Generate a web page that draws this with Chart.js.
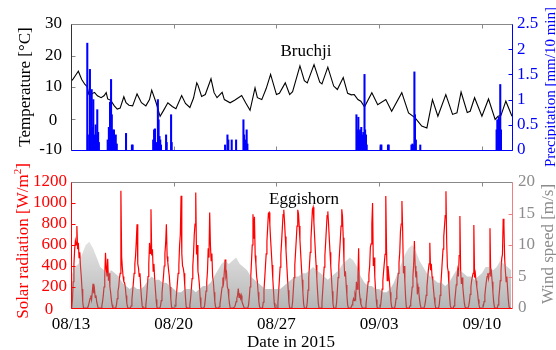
<!DOCTYPE html>
<html>
<head>
<meta charset="utf-8">
<script src="https://cdn.jsdelivr.net/npm/chart.js@4.4.1/dist/chart.umd.min.js"></script>
<style>
body { margin: 0; width: 556px; height: 350px; overflow: hidden; background: #fff; font-family: "Liberation Serif", serif; }
canvas { position: absolute; left: 0; top: 0; }
.lbl { position: absolute; white-space: nowrap; font-size: 17px; line-height: 1; }
.rot { transform: translate(-50%, -50%) rotate(-90deg); }
.ctr { transform: translate(-50%, -50%); }
sup { font-size: 11px; line-height: 0; }
</style>
</head>
<body>
<canvas id="grafTop" width="556" height="350"></canvas>
<canvas id="grafBot" width="556" height="350"></canvas>
<div class="lbl rot" style="left:24px; top:87px; color:#000;">Temperature [°C]</div>
<div class="lbl rot" style="left:550px; top:87px; color:#0000ff; font-size:15px;">Precipitation [mm/10 min]</div>
<div class="lbl ctr" style="left:306px; top:50px; color:#000;">Bruchji</div>
<div class="lbl ctr" style="left:53px; top:119px; color:#000;">0</div>
<div class="lbl rot" style="left:22px; top:241px; color:#ff0000;">Solar radiation [W/m<sup>2</sup>]</div>
<div class="lbl rot" style="left:547px; top:244px; color:#8c8c8c;">Wind speed [m/s]</div>
<div class="lbl ctr" style="left:304px; top:198px; color:#000;">Eggishorn</div>
<div class="lbl ctr" style="left:49px; top:308px; color:#ff0000;">0</div>
<div class="lbl ctr" style="left:291px; top:341px; color:#000;">Date in 2015</div>
<script>
// dias desde 08/13 00:00
var xTickDays = [0, 7, 14, 21, 28];
var xTickLabels = ['08/13', '08/20', '08/27', '09/03', '09/10'];

// Bruchji - temperatura
var tempDays = [0, 0.15, 0.28, 0.5, 0.73, 0.95, 1.1, 1.22, 1.4, 1.6, 1.8, 2.05, 2.25, 2.4, 2.5, 2.7, 2.95, 3.15, 3.35, 3.6, 3.75, 3.95,
    4.2, 4.5, 4.8, 5.1, 5.35, 5.5, 5.8, 6.07, 6.3, 6.6, 6.9, 7.15, 7.54, 7.8, 8.1, 8.35, 8.57, 8.65, 8.9, 9.15, 9.54, 9.75, 9.95,
    10.3, 10.45, 10.84, 11.15, 11.63, 11.9, 12.2, 12.54, 12.7, 13.0, 13.3, 13.6, 14.0, 14.2, 14.6, 14.9, 15.1, 15.6, 15.9, 16.1,
    16.56, 16.95, 17.1, 17.5, 17.9, 18.15, 18.55, 18.85, 19.1, 19.3, 19.55, 19.75, 20.0, 20.5, 20.9, 21.45, 21.85, 22.54, 23.0,
    23.45, 23.9, 24.25, 24.63, 25.0, 25.54, 26.0, 26.3, 26.58, 27.0, 27.2, 27.5, 28.0, 28.45, 28.9, 29.1, 29.3, 29.63, 30.05];
var tempVals = [11.8, 12.6, 13.5, 15.0, 12.4, 10.8, 10.1, 7.6, 7.8, 8.3, 7.2, 6.6, 7.2, 8.2, 6.2, 5.8, 4.0, 3.0, 3.3, 6.9, 5.0, 4.2,
    4.0, 7.8, 5.0, 4.0, 6.0, 9.0, 5.0, 0.7, 2.5, 5.0, 3.8, 3.1, 7.3, 4.8, 3.5, 6.5, 11.3, 10.6, 7.0, 7.6, 12.6, 8.2, 6.6,
    8.3, 6.0, 5.0, 5.8, 7.3, 5.0, 2.6, 9.7, 6.6, 6.0, 9.5, 14.0, 7.6, 8.0, 11.3, 7.6, 8.5, 16.7, 12.0, 11.3,
    17.1, 11.5, 11.0, 16.3, 10.3, 9.2, 13.0, 8.0, 7.5, 7.6, 6.0, 5.5, 3.7, 8.2, 4.4, 6.0, 2.3, 8.2, 1.8,
    0.2, -2.4, -3.0, 6.0, 0.7, 7.6, 1.3, 1.8, 8.4, 1.9, 2.3, 6.6, 0.7, 6.2, -0.3, 0.7, 1.0, 5.5, 0.7];

// Bruchji - precipitacao
var precipDays = [1.11, 1.15, 1.29, 1.35, 1.41, 1.47, 1.52, 1.58, 1.68, 1.74, 1.79, 1.85, 1.9,
    2.5, 2.58, 2.66, 2.73, 2.78, 2.83, 2.88, 2.93, 2.98, 3.05, 3.12, 3.75, 4.15, 4.2,
    5.6, 5.66, 5.72, 5.8, 5.92, 5.97, 6.03, 6.08, 6.13, 6.48, 6.52, 6.82, 6.86,
    10.5, 10.66, 10.72, 10.95, 11.25, 11.75, 11.8, 11.9, 11.97, 12.02,
    19.45, 19.52, 19.58, 19.63, 19.7, 19.78, 19.85, 19.92, 20.0, 20.04, 20.1, 20.15,
    21.1, 21.15, 21.6, 21.65,
    23.2, 23.27, 23.33, 23.4, 23.44, 23.5, 23.8,
    29.0, 29.05, 29.1, 29.15, 29.2, 29.25, 29.3];
var precipVals = [2.12, 0.3, 1.6, 0.4, 1.2, 0.45, 1.0, 0.3, 0.5, 0.3, 0.8, 0.35, 0.15,
    0.2, 0.45, 0.95, 1.4, 0.7, 0.4, 0.25, 0.4, 0.2, 0.3, 0.12, 0.33, 0.1, 0.1,
    0.2, 0.4, 0.42, 0.15, 1.0, 0.6, 0.27, 0.2, 0.1, 0.3, 0.15, 0.7, 0.15,
    0.1, 0.3, 0.2, 0.2, 0.2, 0.6, 0.3, 0.2, 0.4, 0.12,
    0.7, 0.4, 0.65, 0.35, 0.4, 0.45, 0.3, 0.35, 1.5, 0.4, 0.3, 0.1,
    0.1, 0.1, 0.1, 0.1,
    0.1, 0.12, 0.1, 1.55, 0.7, 0.2, 0.1,
    0.4, 0.6, 0.55, 0.65, 0.6, 1.3, 0.4];

// Eggishorn - radiacao solar, uma linha por dia, nas fracoes do dia abaixo
var solarFrac = [0.05, 0.10, 0.15, 0.20, 0.25, 0.30, 0.35, 0.40, 0.45, 0.50, 0.55, 0.60, 0.65, 0.70, 0.75, 0.80, 0.85, 0.90];
var solarDias = [
    [0, 80, 250, 420, 560, 640, 600, 780, 560, 620, 480, 530, 390, 300, 180, 60, 0, 0],
    [0, 0, 10, 30, 60, 90, 120, 80, 150, 230, 140, 180, 100, 120, 60, 30, 0, 0],
    [0, 20, 60, 120, 200, 300, 525, 380, 300, 470, 260, 330, 200, 150, 80, 30, 0, 0],
    [0, 30, 90, 160, 200, 280, 330, 1117, 490, 380, 300, 250, 240, 200, 120, 50, 10, 0],
    [0, 20, 80, 160, 240, 330, 420, 500, 637, 797, 420, 380, 300, 330, 200, 100, 20, 0],
    [0, 30, 100, 200, 300, 420, 620, 520, 941, 500, 560, 350, 420, 280, 180, 80, 10, 0],
    [0, 20, 70, 140, 220, 300, 400, 520, 620, 797, 490, 430, 360, 300, 200, 90, 10, 0],
    [0, 20, 70, 150, 240, 330, 410, 600, 700, 1069, 520, 400, 380, 330, 220, 100, 10, 0],
    [0, 30, 90, 180, 280, 400, 520, 700, 800, 1100, 510, 600, 350, 300, 220, 100, 10, 0],
    [0, 20, 80, 160, 250, 350, 570, 480, 909, 600, 450, 520, 300, 250, 150, 60, 10, 0],
    [0, 10, 40, 90, 150, 200, 290, 250, 350, 461, 300, 330, 200, 180, 100, 40, 0, 0],
    [0, 0, 10, 30, 60, 90, 120, 186, 100, 140, 93, 120, 60, 40, 20, 0, 0, 0],
    [0, 30, 100, 200, 300, 445, 600, 893, 660, 870, 500, 420, 300, 250, 150, 60, 10, 0],
    [0, 55, 170, 280, 400, 515, 635, 765, 900, 910, 795, 655, 535, 410, 280, 160, 45, 0],
    [0, 50, 160, 270, 390, 510, 630, 760, 890, 935, 820, 680, 550, 420, 290, 170, 50, 0],
    [0, 60, 170, 290, 410, 530, 650, 780, 935, 900, 780, 650, 520, 390, 270, 150, 40, 0],
    [0, 55, 170, 285, 410, 530, 660, 790, 940, 960, 820, 680, 540, 410, 280, 160, 45, 0],
    [0, 50, 160, 270, 390, 500, 620, 750, 880, 920, 800, 660, 530, 400, 280, 160, 45, 0],
    [0, 55, 170, 290, 410, 530, 650, 780, 940, 870, 670, 450, 300, 350, 220, 120, 30, 0],
    [0, 10, 30, 60, 90, 70, 130, 100, 250, 180, 300, 570, 150, 90, 40, 20, 0, 0],
    [0, 30, 100, 180, 250, 320, 400, 580, 610, 800, 1000, 400, 480, 300, 180, 80, 10, 0],
    [0, 30, 100, 180, 260, 350, 430, 510, 1066, 560, 260, 400, 320, 250, 150, 60, 10, 0],
    [0, 30, 90, 160, 240, 330, 430, 530, 730, 800, 1018, 730, 330, 400, 250, 100, 10, 0],
    [0, 20, 60, 120, 200, 300, 420, 637, 400, 290, 350, 130, 200, 150, 80, 30, 0, 0],
    [0, 20, 60, 120, 200, 280, 360, 420, 621, 360, 420, 300, 260, 180, 100, 40, 0, 0],
    [0, 40, 120, 220, 330, 450, 560, 680, 780, 880, 1111, 620, 390, 350, 220, 100, 20, 0],
    [0, 20, 70, 140, 220, 290, 360, 300, 500, 877, 360, 230, 290, 200, 120, 50, 10, 0],
    [0, 20, 60, 130, 200, 260, 300, 330, 790, 290, 330, 260, 200, 150, 80, 30, 0, 0],
    [0, 20, 60, 120, 190, 250, 300, 330, 280, 330, 760, 300, 340, 250, 150, 60, 10, 0],
    [0, 30, 90, 170, 260, 350, 470, 510, 850, 790, 470, 350, 250, 300, 180, 80, 10, 0]
];

// Eggishorn - vento, a cada 6 horas
var ventoPasso = 0.25;
var ventoVals = [5, 6.5, 7, 8.5, 10, 10.5, 9.5, 8, 6.5, 6, 5.5, 6, 5.5, 5, 4, 3.5, 3, 3.5, 3, 3,
    3.5, 4.5, 5, 4.5, 4.5, 4, 4, 3.5, 3, 2.5, 2.5, 3, 3, 3, 2.5, 3, 3.5, 3.5, 4, 5,
    6, 7, 7.5, 7, 7.5, 8, 7, 6.5, 6, 5, 4.5, 4, 3.5, 3, 3, 3, 3, 3, 3.5, 4,
    4.5, 5, 5, 5.5, 5.5, 6, 6.5, 6, 5.5, 5, 4.5, 5, 5.5, 6, 7, 7.5, 8, 7.5, 6.5, 5,
    4, 3.5, 3.5, 3, 3, 2.5, 2.5, 3, 4, 5.5, 7, 8.5, 9.5, 10, 9, 7.5, 6.5, 5.5, 5, 4.5,
    4, 4, 3.5, 4, 5, 6, 6, 5.5, 5, 5, 4.5, 5, 5.5, 6.5, 6.5, 6, 6.5, 7.5, 7, 6.5, 6];

Chart.defaults.font.family = '"Liberation Serif", serif';
Chart.defaults.font.size = 17;

var moldura = {
    id: 'moldura',
    afterDatasetsDraw: function(chart, args, o) {
        var ctx = chart.ctx, a = chart.chartArea, s = chart.scales;
        var L = Math.round(a.left) + 0.5, R = Math.round(a.right) + 0.5;
        var T = Math.round(a.top) + 0.5, B = Math.round(a.bottom) + 0.5;
        function linha(x1, y1, x2, y2, c) {
            ctx.strokeStyle = c;
            ctx.beginPath(); ctx.moveTo(x1, y1); ctx.lineTo(x2, y2); ctx.stroke();
        }
        ctx.save();
        ctx.lineWidth = 1;
        s.x.ticks.forEach(function(t) {
            var x = Math.round(s.x.getPixelForValue(t.value)) + 0.5;
            linha(x, T, x, T + 4, o.xTick);
            linha(x, B, x, B - 4, o.xTick);
        });
        s[o.esq].ticks.forEach(function(t) {
            var y = Math.round(s[o.esq].getPixelForValue(t.value)) + 0.5;
            linha(L, y, L + 4, y, o.esqTick);
        });
        s[o.dir].ticks.forEach(function(t) {
            var y = Math.round(s[o.dir].getPixelForValue(t.value)) + 0.5;
            linha(R, y, R - 4, y, o.dirTick);
        });
        linha(L, T, R, T, o.topo);
        linha(L, B, R, B, o.base);
        linha(L, T, L, B, o.esqCor);
        linha(R, T, R, B, o.dirCor);
        ctx.restore();
    }
};

function pontos(xs, ys) {
    return xs.map(function(x, i) { return { x: x, y: ys[i] }; });
}

var solarPontos = [];
solarDias.forEach(function(dia, d) {
    dia.forEach(function(v, k) { solarPontos.push({ x: d + solarFrac[k], y: v }); });
});
var ventoPontos = ventoVals.map(function(v, i) { return { x: i * ventoPasso, y: v }; });

function eixoX(mostrar, altura) {
    return {
        type: 'linear', min: 0, max: 30.05, offset: false,
        grid: { display: false, drawTicks: false }, border: { display: false },
        afterBuildTicks: function(sc) { sc.ticks = xTickDays.map(function(v) { return { value: v }; }); },
        ticks: {
            display: mostrar, padding: 6, color: '#000', maxRotation: 0, autoSkip: false,
            callback: function(v) { return xTickLabels[xTickDays.indexOf(v)]; }
        },
        afterFit: function(sc) { sc.height = altura; }
    };
}

function eixoY(lado, min, max, passo, pad, cor, largura) {
    return {
        position: lado, min: min, max: max,
        grid: { display: false, drawTicks: false }, border: { display: false },
        ticks: {
            stepSize: passo, padding: pad, color: cor, autoSkip: false,
            // o zero da esquerda fica deslocado no original, vai como texto separado
            callback: function(v) { return (lado === 'left' && v === 0) ? '' : v; }
        },
        afterFit: function(sc) { sc.width = largura; }
    };
}

// painel de cima
new Chart(document.getElementById('grafTop'), {
    type: 'line',
    data: {
        datasets: [{
            type: 'bar', data: pontos(precipDays, precipVals), yAxisID: 'yP',
            backgroundColor: '#0000ff', borderWidth: 0, barThickness: 1.4, grouped: false
        }, {
            type: 'line', data: pontos(tempDays, tempVals), yAxisID: 'yT',
            borderColor: '#000', borderWidth: 1.1, pointRadius: 0, tension: 0
        }]
    },
    options: {
        responsive: false, animation: false, events: [],
        layout: { padding: { top: 24 } },
        plugins: {
            legend: { display: false }, tooltip: { enabled: false },
            moldura: { esq: 'yT', dir: 'yP', xTick: '#888', esqTick: '#888', dirTick: '#0000ff',
                topo: '#888', base: '#0000ff', esqCor: '#333', dirCor: '#0000ff' }
        },
        scales: {
            x: eixoX(false, 200),
            yT: eixoY('left', -10, 30, 10, 9, '#000', 71),
            yP: eixoY('right', 0, 2.5, 0.5, 5, '#0000ff', 44)
        }
    },
    plugins: [moldura]
});

// painel de baixo
new Chart(document.getElementById('grafBot'), {
    type: 'line',
    data: {
        datasets: [{
            data: ventoPontos, yAxisID: 'yW', fill: 'origin', borderWidth: 0, pointRadius: 0, tension: 0,
            backgroundColor: function(c) {
                var a = c.chart.chartArea;
                if (!a) return 'rgba(130,130,130,0.45)';
                var g = c.chart.ctx.createLinearGradient(0, a.bottom, 0, a.bottom - 75);
                g.addColorStop(0, 'rgba(120,120,120,0.55)');
                g.addColorStop(1, 'rgba(160,160,160,0.25)');
                return g;
            }
        }, {
            data: solarPontos, yAxisID: 'yS',
            borderColor: '#ff0000', borderWidth: 1.2, pointRadius: 0, tension: 0
        }]
    },
    options: {
        responsive: false, animation: false, events: [],
        layout: { padding: { top: 182 } },
        plugins: {
            legend: { display: false }, tooltip: { enabled: false },
            moldura: { esq: 'yS', dir: 'yW', xTick: '#888', esqTick: '#ff0000', dirTick: '#f08080',
                topo: '#888', base: '#ff0000', esqCor: '#ff0000', dirCor: '#f08080' }
        },
        scales: {
            x: eixoX(true, 42),
            yS: eixoY('left', 0, 1200, 200, 4, '#ff0000', 71),
            yW: eixoY('right', 0, 20, 5, 6, '#8c8c8c', 44)
        }
    },
    plugins: [moldura]
});
</script>
</body>
</html>
